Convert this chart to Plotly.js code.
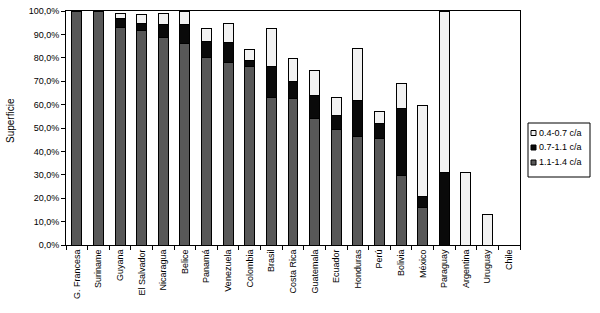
<!DOCTYPE html>
<html>
<head>
<meta charset="utf-8">
<script src="https://cdn.plot.ly/plotly-3.0.1.min.js"></script>
<style>html,body{margin:0;padding:0;background:#fff}</style>
</head>
<body>
<div id="chart" style="width:600px;height:313px"></div>
<script>
const categories = ["G. Francesa","Suriname","Guyana","El Salvador","Nicaragua","Belice","Panamá","Venezuela","Colombia","Brasil","Costa Rica","Guatemala","Ecuador","Honduras","Perú","Bolivia","México","Paraguay","Argentina","Uruguay","Chile"];
const high = [100,100,93.0,91.7,88.5,86.0,80.3,77.9,76.1,63.2,62.8,54.1,49.4,46.2,45.6,29.8,16.2,0,0,0,0];
const mid  = [0,0,3.9,3.1,5.9,8.1,6.6,8.8,2.8,12.9,7.0,9.8,6.1,15.5,6.4,28.5,4.6,30.9,0,0,0];
const low  = [0,0,2.1,3.8,4.6,5.9,5.8,7.8,4.7,16.6,9.8,10.8,7.4,22.1,4.9,10.8,38.9,69.1,31.0,13.2,0];
const seriesNames = ["1.1-1.4 c/a","0.7-1.1 c/a","0.4-0.7 c/a"];
const yTicks = [0,10,20,30,40,50,60,70,80,90,100];
const yTickText = yTicks.map(v => v.toFixed(1).replace(".", ",") + "%");

const fillColors = ["#585858","#0a0a0a","#f2f2f2"];
const traces = [high, mid, low].map((vals, i) => ({
  type: "bar",
  name: seriesNames[i],
  x: categories,
  y: vals,
  marker: {color: fillColors[i], line: {color: "#000", width: 1}},
  hoverinfo: "skip"
}));

// custom compact legend (pixel -> paper helpers)
const L = 66, R = 520, T = 11, B = 245;
const px = p => (p - L) / (R - L);
const py = p => (B - p) / (B - T);
const shapes = [{
  type: "rect", xref: "paper", yref: "paper",
  x0: px(528), x1: px(590), y0: py(177), y1: py(123),
  line: {color: "#000", width: 1}, fillcolor: "#fff"
}];
const annotations = [];
const legendRows = [133, 147.5, 162.5];
[2, 1, 0].forEach((si, k) => {
  const yc = legendRows[k];
  shapes.push({
    type: "rect", xref: "paper", yref: "paper",
    x0: px(531), x1: px(536), y0: py(yc + 2.5), y1: py(yc - 2.5),
    line: {color: "#000", width: 1}, fillcolor: fillColors[si]
  });
  annotations.push({
    xref: "paper", yref: "paper", x: px(536.5), y: py(yc),
    xanchor: "left", yanchor: "middle", showarrow: false,
    text: seriesNames[si], font: {size: 9}
  });
});
annotations.push({
  xref: "paper", yref: "paper", x: px(10), y: py(121),
  xanchor: "center", yanchor: "middle", showarrow: false,
  textangle: -90, text: "Superficie", font: {size: 10}
});

const layout = {
  width: 600, height: 313,
  margin: {l: 66, r: 80, t: 11, b: 68},
  barmode: "stack",
  bargap: 0.54,
  paper_bgcolor: "#fff",
  plot_bgcolor: "#fff",
  font: {family: "Liberation Sans, Arial, sans-serif", size: 9, color: "#000"},
  showlegend: false,
  shapes: shapes,
  annotations: annotations,
  xaxis: {
    type: "category",
    tickangle: -90,
    showline: true, linecolor: "#000", linewidth: 1, mirror: true,
    ticks: "outside", ticklen: 4, tickcolor: "#000",
    tickson: "boundaries",
    showgrid: false,
    tickfont: {size: 9}
  },
  yaxis: {
    range: [0, 100],
    tickvals: yTicks,
    ticktext: yTickText,
    showline: true, linecolor: "#000", linewidth: 1, mirror: true,
    ticks: "outside", ticklen: 4, tickcolor: "#000",
    showgrid: false, zeroline: false,
    tickfont: {size: 9}
  }
};

Plotly.newPlot("chart", traces, layout, {displayModeBar: false, staticPlot: true});
</script>
</body>
</html>
